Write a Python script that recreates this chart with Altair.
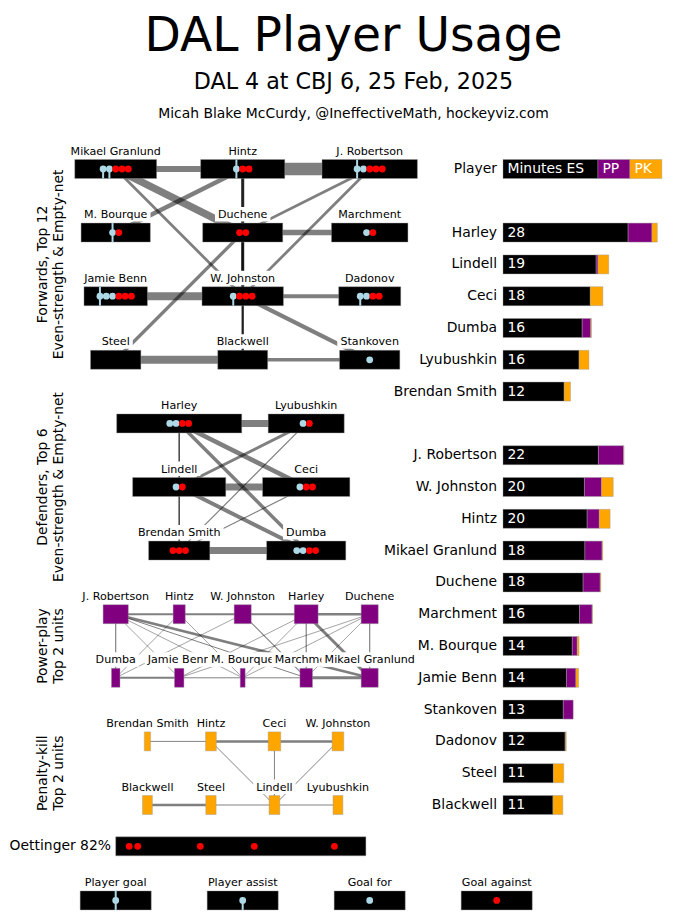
import altair as alt
import pandas as pd

# ------------------------------------------------------------------ data
def_names = ["Harley", "Lindell", "Ceci", "Dumba", "Lyubushkin", "Brendan Smith"]
def_es = [27.8, 20.7, 19.4, 17.6, 16.9, 13.6]
def_pp = [5.3, 0.4, 0.0, 1.9, 0.0, 0.0]
def_pk = [1.2, 2.4, 2.8, 0.15, 2.2, 1.4]
def_es_label = [28, 19, 18, 16, 16, 12]

fwd_names = ["J. Robertson", "W. Johnston", "Hintz", "Mikael Granlund", "Duchene",
             "Marchment", "M. Bourque", "Jamie Benn", "Stankoven", "Dadonov",
             "Steel", "Blackwell"]
fwd_es = [21.2, 18.1, 18.7, 18.2, 17.8, 17.0, 15.4, 14.1, 13.4, 13.8, 11.2, 11.1]
fwd_pp = [5.6, 3.8, 2.7, 3.8, 3.8, 2.8, 1.1, 2.1, 2.2, 0.1, 0.0, 0.0]
fwd_pk = [0.07, 2.6, 2.4, 0.15, 0.15, 0.07, 0.4, 0.6, 0.0, 0.15, 2.3, 2.2]
fwd_es_label = [22, 20, 20, 18, 18, 16, 14, 14, 13, 12, 11, 11]

key_names = ["Minutes ES", "PP", "PK"]
key_minutes = [21.1, 7.1, 7.1]

fwd_grid = [["Mikael Granlund", "Hintz", "J. Robertson"],
            ["M. Bourque", "Duchene", "Marchment"],
            ["Jamie Benn", "W. Johnston", "Dadonov"],
            ["Steel", "Blackwell", "Stankoven"]]
def_grid = [["Harley", "Lyubushkin"], ["Lindell", "Ceci"], ["Brendan Smith", "Dumba"]]
pp_units = [["J. Robertson", "Hintz", "W. Johnston", "Harley", "Duchene"],
            ["Dumba", "Jamie Benn", "M. Bourque", "Marchment", "Mikael Granlund"]]
pk_units = [["Brendan Smith", "Hintz", "Ceci", "W. Johnston"],
            ["Blackwell", "Steel", "Lindell", "Lyubushkin"]]

es_players = def_names + fwd_names
es_goals_for = [2, 1, 1, 2, 1, 0, 2, 1, 1, 2, 0, 1, 1, 3, 1, 2, 0, 0]
es_goals_against = [2, 1, 2, 2, 1, 3, 3, 3, 2, 3, 2, 1, 1, 3, 0, 2, 0, 0]
goal_scorers = ["J. Robertson", "Hintz", "M. Bourque", "Jamie Benn"]
assist_makers = ["Mikael Granlund", "Mikael Granlund", "W. Johnston", "Dadonov"]

# shared time on ice (minutes) between pairs of players
es_edges = [("Mikael Granlund", "Hintz", 6.7), ("Hintz", "J. Robertson", 13.9),
            ("Mikael Granlund", "Duchene", 8.3), ("Mikael Granlund", "W. Johnston", 3.1),
            ("Hintz", "M. Bourque", 5.0), ("Hintz", "Duchene", 3.3),
            ("Hintz", "W. Johnston", 3.3), ("Hintz", "Blackwell", 2.2),
            ("J. Robertson", "Duchene", 3.1), ("J. Robertson", "W. Johnston", 3.1),
            ("Duchene", "Marchment", 6.1), ("Duchene", "W. Johnston", 3.3),
            ("Duchene", "Steel", 3.7), ("Duchene", "Blackwell", 2.2),
            ("Jamie Benn", "W. Johnston", 8.9), ("W. Johnston", "Dadonov", 4.4),
            ("W. Johnston", "Stankoven", 4.7), ("W. Johnston", "Blackwell", 2.2),
            ("Steel", "Blackwell", 8.9), ("Blackwell", "Stankoven", 3.9),
            ("Harley", "Lyubushkin", 7.8), ("Harley", "Lindell", 1.7),
            ("Harley", "Ceci", 5.0), ("Harley", "Dumba", 3.9),
            ("Harley", "Brendan Smith", 1.3), ("Lyubushkin", "Lindell", 3.3),
            ("Lyubushkin", "Brendan Smith", 1.3), ("Lindell", "Ceci", 7.8),
            ("Lindell", "Dumba", 4.4), ("Lindell", "Brendan Smith", 1.7),
            ("Ceci", "Brendan Smith", 1.3), ("Brendan Smith", "Dumba", 7.8)]
pp_edges = [("J. Robertson", "Hintz", 2.2), ("Hintz", "W. Johnston", 2.2),
            ("W. Johnston", "Harley", 2.2), ("Harley", "Duchene", 2.8),
            ("Dumba", "Jamie Benn", 2.2), ("Jamie Benn", "M. Bourque", 1.1),
            ("M. Bourque", "Marchment", 1.1), ("Marchment", "Mikael Granlund", 3.3),
            ("J. Robertson", "Dumba", 1.3), ("Harley", "Marchment", 1.3),
            ("Duchene", "Mikael Granlund", 1.3), ("Harley", "Mikael Granlund", 3.3),
            ("J. Robertson", "Mikael Granlund", 2.8), ("J. Robertson", "Marchment", 1.1),
            ("J. Robertson", "Jamie Benn", 0.8), ("J. Robertson", "M. Bourque", 0.8),
            ("Hintz", "Dumba", 0.8), ("Hintz", "M. Bourque", 0.8),
            ("W. Johnston", "Dumba", 0.8), ("W. Johnston", "Marchment", 1.3),
            ("Harley", "M. Bourque", 0.8), ("Harley", "Jamie Benn", 0.8),
            ("Duchene", "Jamie Benn", 0.8), ("Duchene", "M. Bourque", 0.8),
            ("Duchene", "Marchment", 0.8)]
pk_edges = [("Brendan Smith", "Hintz", 1.1), ("Hintz", "Ceci", 2.8),
            ("Ceci", "W. Johnston", 2.8), ("Hintz", "Lindell", 1.1),
            ("Ceci", "Lindell", 1.1), ("W. Johnston", "Lindell", 1.1),
            ("Blackwell", "Steel", 2.8), ("Steel", "Lindell", 1.1),
            ("Lindell", "Lyubushkin", 1.1)]

goalie_label = "Oettinger 82%"
goalie_toi = 55.6
goalie_goals_against_at = [3.0, 4.9, 18.8, 30.8, 48.6]

legend_items = ["Player goal", "Player assist", "Goal for", "Goal against"]
legend_box_minutes = 15.8

title_text = "DAL Player Usage"
subtitle_text = "DAL 4 at CBJ 6, 25 Feb, 2025"
credit_text = "Micah Blake McCurdy, @IneffectiveMath, hockeyviz.com"
section_labels = [("Forwards, Top 12", "Even-strength & Empty-net", 3),
                  ("Defenders, Top 6", "Even-strength & Empty-net", 10),
                  ("Power-play", "Top 2 units", 15),
                  ("Penalty-kill", "Top 2 units", 19)]

# ------------------------------------------------------------------ layout
W, H = 682, 907
COL0, COLSTEP = 107.7, 63.5
ROW0, ROWSTEP = 161.0, 31.8
BOX_H = 19.0
K = 4.5            # px per minute
BAR_X0 = 495.0
DOT_STEP = 6.3
FONT = "DejaVu Sans"
FS_SMALL, FS_MED = 11.1, 13.9
LB, RED = "#add8e6", "#ff0000"


def cx(c):
    return COL0 + COLSTEP * c


def ry(r):
    return ROW0 + ROWSTEP * r


CW = {' ': .318, '.': .318, ',': .318, '-': .361, 'a': .613, 'b': .635, 'c': .550,
      'd': .635, 'e': .615, 'f': .352, 'g': .635, 'h': .634, 'i': .278, 'j': .278,
      'k': .579, 'l': .278, 'm': .974, 'n': .634, 'o': .612, 'p': .635, 'q': .635,
      'r': .411, 's': .521, 't': .392, 'u': .634, 'v': .592, 'w': .818, 'y': .592,
      'z': .525, 'A': .684, 'B': .686, 'C': .698, 'D': .770, 'E': .632, 'G': .775,
      'H': .752, 'J': .295, 'L': .557, 'M': .863, 'P': .603, 'R': .695, 'S': .635,
      'W': .989}


def text_w(s, fs):
    return sum(CW.get(ch, 0.6) for ch in s) * fs


es_min = dict(zip(def_names + fwd_names, def_es + fwd_es))
pp_min = dict(zip(def_names + fwd_names, def_pp + fwd_pp))
pk_min = dict(zip(def_names + fwd_names, def_pk + fwd_pk))
gf = dict(zip(es_players, es_goals_for))
ga = dict(zip(es_players, es_goals_against))

nodes = []
for i, row in enumerate(fwd_grid):
    for j, n in enumerate(row):
        nodes.append(("es", n, cx(2 * j), ry(2 * i), es_min[n] * K, "black", 0))
for i, row in enumerate(def_grid):
    for j, n in enumerate(row):
        nodes.append(("es", n, cx(1 + 2 * j), ry(8 + 2 * i), es_min[n] * K, "black", 0))
for i, row in enumerate(pp_units):
    for j, n in enumerate(row):
        nodes.append(("pp", n, cx(j), ry(14 + 2 * i), pp_min[n] * K, "purple", i))
for i, row in enumerate(pk_units):
    for j, n in enumerate(row):
        nodes.append(("pk", n, cx(0.5 + j), ry(18 + 2 * i), pk_min[n] * K, "orange", 0))
for j, n in enumerate(legend_items):
    nodes.append(("legend", n, cx(2 * j), ry(23), legend_box_minutes * K, "black", 0))

pos = {(net, n): (x, y) for net, n, x, y, w, f, b in nodes}

# edges
edge_rows = []
for net, lst in (("es", es_edges), ("pp", pp_edges), ("pk", pk_edges)):
    for a, b, m in lst:
        xa, ya = pos[(net, a)]
        xb, yb = pos[(net, b)]
        edge_rows.append(dict(x=xa, y=ya, x2=xb, y2=yb, shared=m))
edges_df = pd.DataFrame(edge_rows)

# boxes
box_rows = []
for net, n, x, y, w, f, b in nodes:
    box_rows.append(dict(x1=x - w / 2, x2=x + w / 2, y1=y - BOX_H / 2, y2=y + BOX_H / 2, fill=f))
gy = ry(21.3)
box_rows.append(dict(x1=cx(0), x2=cx(0) + goalie_toi * K, y1=gy - BOX_H / 2,
                     y2=gy + BOX_H / 2, fill="black"))
boxes_df = pd.DataFrame(box_rows)

# dots and goal/assist markers
dot_rows, mark_rows = [], []
for net, n, x, y, w, f, b in nodes:
    if net != "es":
        continue
    k_for, k_ag = gf[n], ga[n]
    tot = k_for + k_ag
    for i in range(tot):
        dx = x + (i - (tot - 1) / 2) * DOT_STEP
        dot_rows.append(dict(x=dx, y=y, fill=LB if i < k_for else RED, order=0 if i < k_for else 1))
    gi = 0
    for s in goal_scorers:
        if s == n:
            dx = x + (gi - (tot - 1) / 2) * DOT_STEP
            mark_rows.append(dict(x=dx, y1=y - BOX_H / 2, y2=y + BOX_H / 2))
            gi += 1
    for s in assist_makers:
        if s == n:
            dx = x + (gi - (tot - 1) / 2) * DOT_STEP
            mark_rows.append(dict(x=dx, y1=y, y2=y + BOX_H / 2))
            gi += 1
# legend markers
lx = [pos[("legend", n)][0] for n in legend_items]
ly = ry(23)
mark_rows.append(dict(x=lx[0], y1=ly - BOX_H / 2, y2=ly + BOX_H / 2))
mark_rows.append(dict(x=lx[1], y1=ly, y2=ly + BOX_H / 2))
for j in range(4):
    dot_rows.append(dict(x=lx[j], y=ly, fill=RED if j == 3 else LB, order=1 if j == 3 else 0))
for t in goalie_goals_against_at:
    dot_rows.append(dict(x=cx(0) + t * K, y=gy, fill=RED, order=1))
dots_df = pd.DataFrame(dot_rows).sort_values("order", kind="stable")
marks_df = pd.DataFrame(mark_rows)

# node labels (white backing boxes hide the lines below them)
lab_rows = []
for net, n, x, y, w, f, b in nodes:
    base = y - 14.5
    tw = text_w(n, FS_SMALL)
    lab_rows.append(dict(x=x, y=base, text=n, rx1=x - tw / 2 - 3, rx2=x + tw / 2 + 3,
                         ry1=base - 11, ry2=base + 3.5, stack=(net == "pp" and b == 1)))
labels_df = pd.DataFrame(lab_rows)
plain_labels = labels_df[~labels_df["stack"]]
stacked_labels = labels_df[labels_df["stack"]]

# right-hand bars
bar_rows, num_rows, name_rows = [], [], []
players_rows = [(n, es_min[n], pp_min[n], pk_min[n], lab, 2 + i)
                for i, (n, lab) in enumerate(zip(def_names, def_es_label))]
players_rows += [(n, es_min[n], pp_min[n], pk_min[n], lab, 9 + i)
                 for i, (n, lab) in enumerate(zip(fwd_names, fwd_es_label))]
for n, e, p, k, lab, r in players_rows:
    yc = ry(r)
    a = 0.0
    for v, col in ((e, "black"), (p, "purple"), (k, "orange")):
        if v > 0:
            bar_rows.append(dict(x1=BAR_X0 + a * K, x2=BAR_X0 + (a + v) * K,
                                 y1=yc - BOX_H / 2, y2=yc + BOX_H / 2, fill=col))
        a += v
    num_rows.append(dict(x=BAR_X0 + 4.5, y=yc, text=str(lab), fs=FS_MED))
    name_rows.append(dict(x=BAR_X0 - 6, y=yc, text=n, fs=FS_MED))
a = 0.0
for kn, v, col in zip(key_names, key_minutes, ["black", "purple", "orange"]):
    bar_rows.append(dict(x1=BAR_X0 + a * K, x2=BAR_X0 + (a + v) * K,
                         y1=ry(0) - BOX_H / 2, y2=ry(0) + BOX_H / 2, fill=col))
    num_rows.append(dict(x=BAR_X0 + a * K + 4.5, y=ry(0), text=kn, fs=FS_MED))
    a += v
name_rows.append(dict(x=BAR_X0 - 6, y=ry(0), text="Player", fs=FS_MED))
name_rows.append(dict(x=cx(0) - 4.7, y=gy, text=goalie_label, fs=FS_MED))
bars_df = pd.DataFrame(bar_rows)
nums_df = pd.DataFrame(num_rows)
names_df = pd.DataFrame(name_rows)

titles_df = pd.DataFrame([
    dict(x=345.5, y=43, text=title_text, fs=47.2),
    dict(x=345.5, y=80.5, text=subtitle_text, fs=22.2),
    dict(x=345.5, y=110, text=credit_text, fs=FS_MED),
])
sec_rows = []
for l1, l2, r in section_labels:
    sec_rows.append(dict(x=35, y=ry(r), text=l1))
    sec_rows.append(dict(x=51, y=ry(r), text=l2))
sec_df = pd.DataFrame(sec_rows)

# ------------------------------------------------------------------ chart
XS = alt.Scale(domain=[0, W], nice=False, zero=False)
YS = alt.Scale(domain=[0, H], nice=False, zero=False, reverse=True)


def X(f):
    return alt.X(f, type="quantitative", scale=XS, axis=None)


def Y(f):
    return alt.Y(f, type="quantitative", scale=YS, axis=None)


def rects(df, **kw):
    return alt.Chart(df).mark_rect(**kw).encode(
        x=X("x1"), x2="x2", y=Y("y1"), y2="y2",
        fill=alt.Fill("fill:N", scale=None))


layers = []
layers.append(alt.Chart(edges_df).mark_rule(color="black", opacity=0.5).encode(
    x=X("x"), y=Y("y"), x2="x2", y2="y2",
    strokeWidth=alt.StrokeWidth("shared:Q", scale=alt.Scale(domain=[0, 10], range=[0, 9]),
                                legend=None)))
layers.append(rects(boxes_df, stroke="#999999", strokeWidth=0.7, strokeOpacity=0.6))
layers.append(alt.Chart(marks_df).mark_rule(color=LB, strokeWidth=2).encode(
    x=X("x"), y=Y("y1"), y2="y2"))
layers.append(alt.Chart(dots_df).mark_circle(size=46, opacity=1).encode(
    x=X("x"), y=Y("y"), fill=alt.Fill("fill:N", scale=None)))


def label_pair(df):
    r = alt.Chart(df).mark_rect(fill="white").encode(
        x=X("rx1"), x2="rx2", y=Y("ry1"), y2="ry2")
    t = alt.Chart(df).mark_text(font=FONT, fontSize=FS_SMALL, align="center",
                                baseline="alphabetic", color="black").encode(
        x=X("x"), y=Y("y"), text="text:N")
    return [r, t]


layers += label_pair(plain_labels)
for i in range(len(stacked_labels)):
    layers += label_pair(stacked_labels.iloc[[i]])

layers.append(rects(bars_df, stroke="#999999", strokeWidth=0.7, strokeOpacity=0.6))
layers.append(alt.Chart(nums_df).mark_text(font=FONT, align="left", baseline="middle",
                                           color="white").encode(
    x=X("x"), y=Y("y"), text="text:N", size=alt.Size("fs:Q", scale=None)))
layers.append(alt.Chart(names_df).mark_text(font=FONT, align="right", baseline="middle",
                                            color="black").encode(
    x=X("x"), y=Y("y"), text="text:N", size=alt.Size("fs:Q", scale=None)))
layers.append(alt.Chart(titles_df).mark_text(font=FONT, align="center", baseline="alphabetic",
                                             color="black").encode(
    x=X("x"), y=Y("y"), text="text:N", size=alt.Size("fs:Q", scale=None)))
layers.append(alt.Chart(sec_df).mark_text(font=FONT, fontSize=FS_MED, align="center",
                                          baseline="middle", angle=270, color="black").encode(
    x=X("x"), y=Y("y"), text="text:N"))

chart = alt.layer(*layers).properties(
    width=W, height=H, padding=0,
    autosize=alt.AutoSizeParams(type="none"),
).configure_view(stroke=None)

chart.save("out.html", embed_options={"renderer": "svg", "actions": False})
